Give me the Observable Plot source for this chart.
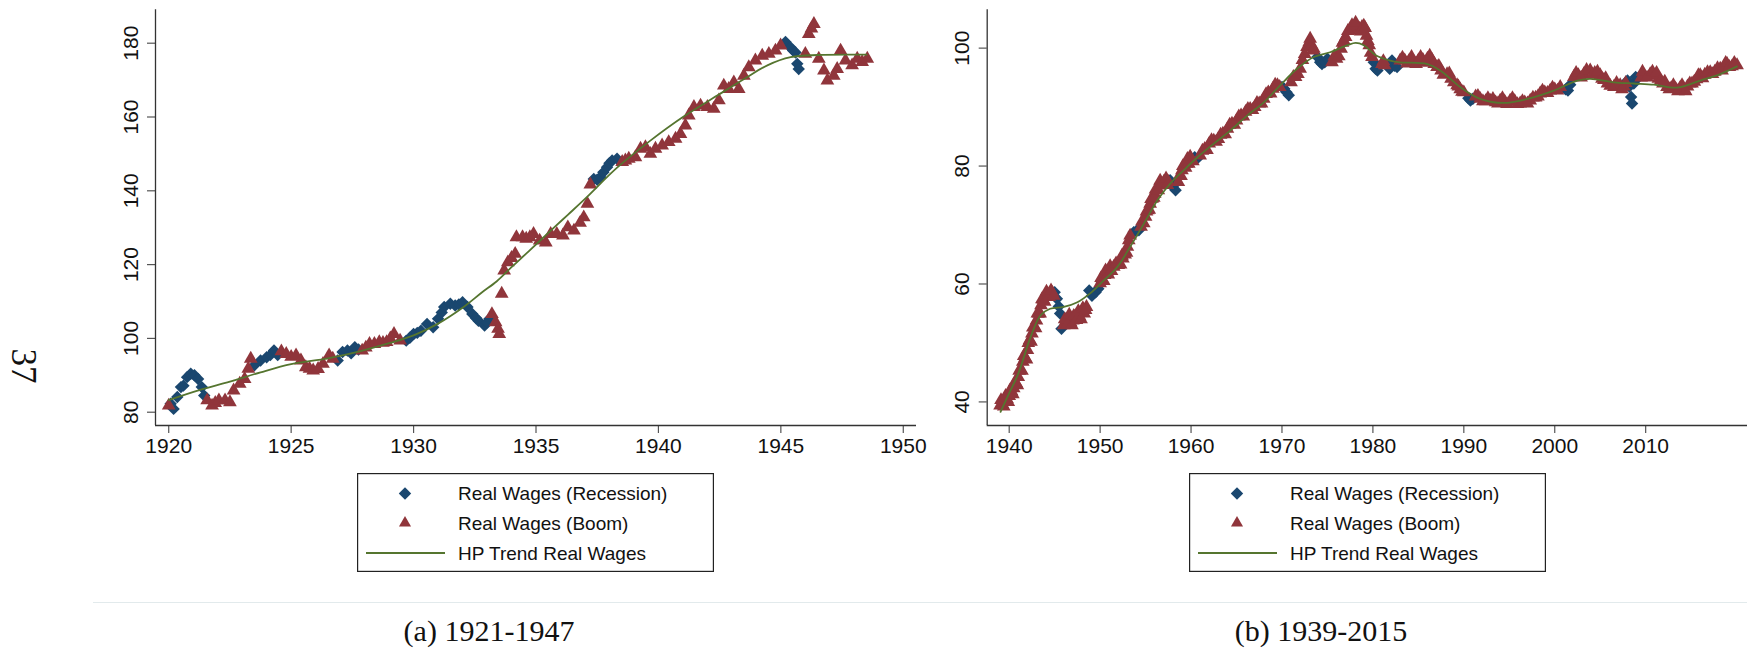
<!DOCTYPE html>
<html><head><meta charset="utf-8">
<script src="https://cdn.jsdelivr.net/npm/d3@7"></script>
<script src="https://cdn.jsdelivr.net/npm/@observablehq/plot@0.6"></script>
<style>
html,body{margin:0;padding:0;background:#fff;}
#page{position:relative;width:1747px;height:651px;overflow:hidden;background:#fff;}
.panel{position:absolute;top:0;}
.legend{position:absolute;top:473px;}
.caption{position:absolute;top:616px;font-family:"Liberation Serif","Times New Roman",serif;font-size:30px;color:#111;transform:translateX(-50%);white-space:nowrap;line-height:1;}
.sep{position:absolute;left:93px;right:0;top:602px;height:1px;background:#e2eaec;}
.pagenum{position:absolute;left:23px;top:366px;font-family:"Liberation Serif","Times New Roman",serif;font-size:35px;color:#111;line-height:1;transform:translate(-50%,-50%) rotate(90deg);white-space:nowrap;}
</style>
</head><body>
<div id="page">
  <div class="pagenum">37</div>
  <div id="left" class="panel" style="left:0px"></div>
  <div id="right" class="panel" style="left:930px"></div>
  <div id="legL" class="legend" style="left:357px"></div>
  <div id="legR" class="legend" style="left:1189px"></div>
  <div class="sep"></div>
  <div class="caption" style="left:489px">(a) 1921-1947</div>
  <div class="caption" style="left:1321px">(b) 1939-2015</div>
</div>
<script>
// ---------------- DATA ----------------
const leftXTicks = [1920, 1925, 1930, 1935, 1940, 1945, 1950];
const leftYTicks = [80, 100, 120, 140, 160, 180];
const rightXTicks = [1940, 1950, 1960, 1970, 1980, 1990, 2000, 2010];
const rightYTicks = [40, 60, 80, 100];
const legendLabels = ["Real Wages (Recession)", "Real Wages (Boom)", "HP Trend Real Wages"];

// Panel (a): [year, real wage]
const leftRecession = [
[1920.08,82.3],[1920.2,80.9],[1920.35,84.1],[1920.5,86.8],[1920.6,87.2],[1920.75,89.5],[1920.9,90.4],[1921.05,90.0],[1921.2,89.0],[1921.35,86.8],[1921.45,84.5],
[1923.5,92.7],[1923.75,94.0],[1924.0,94.9],[1924.15,95.5],[1924.3,96.7],[1924.45,95.5],
[1926.9,94.0],[1927.1,96.3],[1927.3,96.7],[1927.45,96.0],[1927.6,97.6],[1927.75,97.0],
[1929.7,99.4],[1929.85,100.2],[1930.0,101.2],[1930.15,101.5],[1930.3,102.1],[1930.55,103.9],[1930.8,103.0],[1931.0,105.3],[1931.15,107.0],[1931.25,108.5],[1931.5,109.4],[1931.7,108.9],[1931.85,109.2],[1932.0,109.8],[1932.2,108.5],[1932.4,106.6],[1932.55,105.5],[1932.65,104.8],[1932.9,103.5],[1933.0,104.3],[1933.1,105.3],
[1937.36,143.2],[1937.5,143.0],[1937.63,143.7],[1937.75,145.0],[1937.9,146.4],[1938.0,147.5],[1938.11,148.2],[1938.31,148.7],
[1945.19,180.3],[1945.39,178.9],[1945.5,178.0],[1945.6,177.5],[1945.67,174.4],[1945.73,173.0]
];
const leftBoom = [
[1920.0,81.8],[1921.57,83.2],[1921.77,81.8],[1921.9,82.5],[1922.05,83.2],[1922.3,83.2],[1922.5,82.7],[1922.65,85.9],[1922.9,87.7],[1923.1,89.0],[1923.25,91.8],[1923.35,94.5],
[1924.6,96.5],[1924.8,95.8],[1925.0,95.0],[1925.2,95.4],[1925.4,94.0],[1925.6,92.2],[1925.75,91.8],[1925.9,91.3],[1926.1,91.7],[1926.3,93.1],[1926.55,95.4],[1926.7,94.5],
[1927.9,96.7],[1928.05,97.5],[1928.2,98.5],[1928.4,98.5],[1928.6,99.0],[1928.75,98.8],[1928.9,99.0],[1929.05,100.0],[1929.2,101.2],[1929.45,99.4],
[1933.2,106.6],[1933.35,104.4],[1933.45,102.6],[1933.5,101.2],[1933.6,112.1],[1933.7,118.4],[1933.85,120.6],[1934.0,121.8],[1934.15,122.9],[1934.2,127.4],[1934.45,127.4],[1934.6,127.0],[1934.75,127.4],[1934.9,128.3],[1935.15,126.5],[1935.4,126.0],[1935.6,128.3],[1935.85,128.3],[1936.1,127.9],[1936.3,130.1],[1936.55,129.2],[1936.8,131.3],[1936.95,132.8],[1937.1,136.5],[1937.22,141.7],
[1938.52,147.8],[1938.65,148.2],[1938.79,148.7],[1939.06,149.1],[1939.27,151.4],[1939.47,151.8],[1939.67,150.0],[1939.88,151.4],[1940.15,152.3],[1940.42,153.2],[1940.7,154.1],[1940.9,155.4],[1941.1,157.7],[1941.24,160.4],[1941.45,162.7],[1941.72,163.1],[1942.0,162.7],[1942.26,162.2],[1942.47,164.5],[1942.67,168.5],[1942.87,167.6],[1943.08,169.4],[1943.28,167.6],[1943.49,171.2],[1943.69,173.5],[1943.96,175.3],[1944.24,176.6],[1944.51,177.1],[1944.78,178.0],[1944.99,179.4],
[1946.0,177.1],[1946.14,182.5],[1946.25,184.0],[1946.35,185.2],[1946.55,175.8],[1946.76,172.6],[1946.9,169.9],[1947.16,171.2],[1947.3,173.0],[1947.44,178.0],[1947.64,175.3],[1947.91,174.0],[1948.12,175.8],[1948.32,174.9],[1948.53,175.8]
];
const leftTrend = [
[1920.0,83.3],[1921.25,86.0],[1922.5,88.3],[1923.75,90.8],[1925.0,93.0],[1926.5,94.6],[1927.8,96.5],[1929.0,98.7],[1930.0,100.8],[1931.0,104.0],[1932.0,108.3],[1932.8,112.5],[1933.4,115.5],[1934.0,119.3],[1934.7,123.6],[1935.6,129.2],[1936.3,133.5],[1937.0,137.8],[1938.3,146.2],[1939.67,153.6],[1941.0,160.0],[1942.4,165.8],[1943.5,170.3],[1944.45,174.0],[1945.4,176.2],[1946.5,176.8],[1948.5,176.9]
];

// Panel (b): [year, real wage]
const rightRecession = [
[1945.0,58.6],[1945.25,57.5],[1945.45,56.2],[1945.6,55.0],[1945.75,52.4],
[1948.8,58.9],[1949.1,58.0],[1949.5,58.6],[1949.8,59.2],
[1953.7,68.8],[1954.0,69.0],[1954.26,69.1],
[1957.7,77.6],[1958.0,76.5],[1958.3,75.9],
[1960.4,81.5],[1960.7,81.3],
[1970.0,93.4],[1970.25,93.1],[1970.5,92.5],[1970.75,92.0],
[1973.9,98.5],[1974.2,97.6],[1974.4,97.3],[1974.7,97.6],[1975.0,98.2],
[1980.1,97.6],[1980.3,96.5],[1980.5,96.2],
[1981.6,97.0],[1981.85,96.5],[1982.1,97.9],[1982.4,97.0],[1982.66,96.8],
[1990.5,91.5],[1990.73,91.1],[1991.0,91.4],
[2001.2,93.0],[2001.45,92.8],[2001.7,93.8],
[2008.0,94.5],[2008.2,93.5],[2008.4,91.7],[2008.5,90.6],[2008.7,94.0],[2008.9,95.1],[2009.2,95.0]
];
const rightBoom = [
[1939.0,39.4],[1939.25,39.6],[1939.5,40.2],[1939.75,40.5],[1940.0,41.0],[1940.25,41.8],[1940.5,42.3],[1940.75,43.2],[1941.0,44.2],[1941.25,45.5],[1941.5,46.8],[1941.75,47.5],[1942.0,48.8],[1942.25,50.5],[1942.5,51.6],[1942.75,52.8],[1943.0,53.8],[1943.25,55.0],[1943.5,56.4],[1943.75,57.3],[1944.0,58.1],[1944.25,58.2],[1944.5,58.4],[1944.75,58.5],
[1946.0,53.0],[1946.25,53.8],[1946.5,54.1],[1946.75,53.5],[1947.0,53.8],[1947.25,54.5],[1947.5,54.7],[1947.75,54.5],[1948.0,55.3],[1948.25,55.0],[1948.5,56.1],
[1950.0,60.1],[1950.25,60.8],[1950.5,61.5],[1950.75,62.0],[1951.0,62.3],[1951.5,62.9],[1952.0,63.2],[1952.5,64.3],[1952.75,65.0],[1953.0,66.3],[1953.3,68.2],
[1954.5,69.7],[1955.0,71.4],[1955.25,72.5],[1955.5,73.6],[1955.75,74.5],[1956.0,75.3],[1956.25,76.0],[1956.5,76.7],[1957.0,77.3],[1957.5,77.3],
[1958.6,77.3],[1959.0,79.3],[1959.25,80.0],[1959.5,80.4],[1960.0,81.2],
[1961.0,81.8],[1961.5,82.9],[1962.0,83.8],[1962.5,84.3],[1963.0,84.6],[1963.5,85.5],[1964.0,86.3],[1964.5,87.2],[1965.0,87.7],[1965.5,88.6],[1966.0,89.2],[1966.5,89.7],[1967.0,90.0],[1967.5,90.6],[1968.0,91.4],[1968.5,92.5],[1969.0,93.1],[1969.5,93.7],
[1971.0,94.2],[1971.5,95.1],[1972.0,96.5],[1972.5,99.0],[1972.75,100.2],[1973.0,101.0],[1973.25,100.5],[1973.5,99.9],
[1975.5,97.6],[1976.0,98.2],[1976.5,99.9],[1976.8,101.3],[1977.0,101.9],[1977.5,103.0],[1977.9,103.6],[1978.3,103.5],[1978.5,103.3],[1978.8,103.6],[1979.0,103.8],[1979.3,102.1],[1979.6,100.5],[1979.9,98.5],
[1981.0,97.3],[1981.3,97.1],
[1983.0,97.9],[1983.5,97.9],[1984.0,97.9],[1984.5,97.7],[1985.0,97.9],[1985.5,98.0],[1986.0,98.2],[1986.5,98.0],[1987.06,96.8],[1987.5,96.2],[1988.16,95.6],[1988.6,94.8],[1989.26,93.7],[1989.6,93.0],[1990.0,92.5],
[1991.3,91.8],[1991.8,91.4],[1992.4,91.0],[1992.9,91.1],[1993.5,90.8],[1994.0,91.1],[1994.5,90.9],[1995.1,91.1],[1995.6,91.0],[1996.2,90.6],[1996.7,90.8],[1997.3,91.1],[1997.9,91.6],[1998.4,92.3],[1998.9,92.5],[1999.5,92.8],[2000.0,93.0],[2000.6,93.4],
[2002.1,95.1],[2002.6,95.4],[2003.2,95.6],[2003.9,96.2],[2004.4,95.8],[2005.0,95.4],[2005.4,94.6],[2005.8,94.0],[2006.5,93.4],[2007.2,93.7],[2007.6,93.5],
[2009.5,95.0],[2009.8,95.4],[2010.5,95.6],[2011.0,95.3],[2011.4,94.8],[2011.9,94.0],[2012.35,93.4],[2012.8,93.2],[2013.3,93.1],[2013.8,93.3],[2014.2,93.1],[2014.6,93.5],[2015.1,94.0],[2015.6,94.7],[2016.0,95.4],[2016.5,95.5],[2017.1,95.9],[2017.6,96.0],[2018.2,96.5],[2018.6,96.8],[2018.95,97.3],[2019.5,96.9],[2020.05,97.1],
// ragged upper/lower edges of the dense band
[1939.1,40.3],[1939.4,39.2],[1939.6,41.0],[1939.9,40.0],[1940.1,42.0],[1940.4,41.3],[1940.6,43.3],[1940.9,42.8],[1941.1,45.3],[1941.4,45.3],[1941.6,47.8],[1941.9,47.2],[1942.1,50.0],[1942.4,50.2],[1942.6,52.6],[1942.9,52.5],[1943.1,55.0],[1943.4,55.0],[1943.6,57.4],[1943.9,57.0],[1944.1,58.7],[1944.4,57.8],[1944.6,58.9],[1944.9,58.0],
[1946.1,54.0],[1946.4,53.2],[1946.6,54.8],[1946.9,53.0],[1947.1,54.6],[1947.4,53.9],[1947.6,55.4],[1947.9,54.0],[1948.1,55.9],[1948.4,55.6],
[1950.1,61.0],[1950.4,60.5],[1950.6,62.3],[1950.9,61.6],[1951.1,63.0],[1951.25,62.2],[1951.75,63.5],[1952.25,63.3],[1952.4,64.8],[1952.9,65.3],[1953.15,67.4],
[1954.6,70.6],[1954.8,70.3],[1955.1,72.3],[1955.4,72.6],[1955.6,74.4],[1955.9,74.6],[1956.1,76.0],[1956.4,75.9],[1956.6,77.5],[1956.75,76.8],[1957.25,77.9],[1957.4,76.8],
[1958.75,78.4],[1958.9,78.3],[1959.1,80.0],[1959.4,79.7],[1959.6,81.2],[1959.75,80.4],[1959.9,81.6],[1960.2,80.8],
[1961.25,82.6],[1961.75,82.7],[1962.25,84.4],[1962.75,84.1],[1963.25,85.3],[1963.75,85.4],[1964.25,87.0],[1964.75,87.0],[1965.25,88.4],[1965.75,88.4],[1966.25,89.7],[1966.75,89.5],[1967.25,90.7],[1967.75,90.6],[1968.25,92.2],[1968.75,92.3],[1969.25,93.8],[1969.75,93.4],
[1971.25,95.1],[1971.75,95.6],[1972.25,98.0],[1973.1,101.6],[1973.4,99.6],
[1975.75,98.6],[1976.25,98.6],[1976.65,100.9],[1977.25,102.9],[1977.7,103.9],[1978.1,104.3],[1978.65,102.8],[1979.15,103.4],[1979.45,101.2],[1979.75,99.2],
[1981.15,97.8],[1983.25,98.4],[1983.75,97.4],[1984.25,98.5],[1984.75,97.3],[1985.25,98.5],[1985.75,97.5],[1986.25,98.7],[1986.75,97.3],[1987.25,97.0],[1987.75,95.5],[1988.4,95.7],[1988.9,94.2],[1989.4,93.5],[1989.8,92.6],
[1991.55,91.9],[1992.1,91.0],[1992.65,91.5],[1993.2,91.4],[1993.75,90.6],[1994.25,91.5],[1994.75,90.5],[1995.35,91.5],[1995.9,90.5],[1996.45,91.0],[1997.0,90.6],[1997.6,91.6],[1998.15,91.8],[1998.65,92.8],[1999.2,92.4],[1999.75,93.3],[2000.3,92.8],
[2002.35,95.8],[2002.9,95.0],[2003.5,96.3],[2004.15,95.5],[2004.7,96.0],[2005.2,94.8],[2005.6,94.9],[2006.1,93.6],[2006.8,94.1],[2007.4,93.0],[2007.8,94.1],
[2009.65,96.0],[2010.15,95.0],[2010.75,96.0],[2011.2,95.8],[2011.65,94.5],[2012.1,94.3],[2012.6,93.0],[2013.05,93.7],[2013.55,92.7],[2014.0,93.7],[2014.4,92.7],[2014.85,94.0],[2015.35,94.3],[2015.8,95.4],[2016.25,94.9],[2016.8,95.9],[2017.35,95.6],[2017.9,96.6],[2018.4,96.2],[2018.8,97.5],[2019.2,96.8],[2019.75,97.5]
];
const rightTrend = [
[1939.05,38.3],[1940.0,41.5],[1941.0,44.8],[1942.35,51.0],[1943.45,54.7],[1944.5,55.8],[1946.0,56.1],[1947.5,56.9],[1948.9,58.4],[1950.4,60.6],[1951.9,62.9],[1953.3,66.3],[1954.8,70.2],[1956.3,74.2],[1957.7,77.0],[1959.2,79.3],[1960.7,81.5],[1962.5,83.8],[1964.3,86.0],[1966.2,88.6],[1968.0,90.8],[1969.8,93.7],[1971.65,96.5],[1973.5,98.5],[1975.3,99.3],[1977.2,100.5],[1978.1,100.9],[1979.0,100.5],[1980.3,98.8],[1981.9,97.9],[1983.0,97.6],[1986.0,97.3],[1987.4,96.2],[1989.6,93.4],[1991.8,91.4],[1994.4,90.7],[1997.0,91.4],[1999.9,92.8],[2002.5,94.5],[2003.9,94.8],[2006.5,94.2],[2008.7,94.0],[2010.9,93.8],[2013.5,93.3],[2016.0,94.5],[2018.2,95.6],[2020.05,96.9]
];

// ---------------- STYLE ----------------
const NAVY = "#1a476f", MAROON = "#90353b", GREEN = "#55752f";
const FONT = "'Liberation Sans', Arial, Helvetica, sans-serif";

function panel({width, marginLeft, marginRight, xDomain, yDomain, xTicks, yTicks, rec, boom, trend}) {
  return Plot.plot({
    width, height: 470,
    marginLeft, marginRight, marginTop: 9.3, marginBottom: 45,
    x: {domain: xDomain},
    y: {domain: yDomain},
    style: {fontFamily: FONT, fontSize: "21px", color: "#111", background: "transparent", overflow: "visible"},
    marks: [
      Plot.axisX({ticks: xTicks, tickSize: 8, tickPadding: 5, tickFormat: d3.format("d"), stroke: "#555", strokeWidth: 1.2}),
      Plot.axisY({ticks: yTicks, tickSize: 8, tickPadding: 10, tickRotate: -90, tickFormat: d3.format("d"), stroke: "#555", strokeWidth: 1.2}),
      Plot.ruleX([xDomain[0]], {stroke: "#333", strokeWidth: 1.3}),
      Plot.ruleY([yDomain[0]], {stroke: "#333", strokeWidth: 1.3}),
      Plot.dot(rec, {x: d => d[0], y: d => d[1], symbol: "diamond2", r: 5.6, fill: NAVY, stroke: null}),
      Plot.dot(boom, {x: d => d[0], y: d => d[1], symbol: "triangle", r: 5.1, fill: MAROON, stroke: null}),
      Plot.line(trend, {x: d => d[0], y: d => d[1], curve: "catmull-rom", stroke: GREEN, strokeWidth: 1.8})
    ]
  });
}

document.getElementById("left").append(panel({
  width: 930, marginLeft: 155, marginRight: 14,
  xDomain: [1919.46, 1950.54], yDomain: [76.4, 189.05],
  xTicks: leftXTicks, yTicks: leftYTicks,
  rec: leftRecession, boom: leftBoom, trend: leftTrend
}));
document.getElementById("right").append(panel({
  width: 817, marginLeft: 56.7, marginRight: 0,
  xDomain: [1937.58, 2021.2], yDomain: [36.0, 106.5],
  xTicks: rightXTicks, yTicks: rightYTicks,
  rec: rightRecession, boom: rightBoom, trend: rightTrend
}));

function legend(id) {
  const W = 357, H = 99;
  const svg = d3.select("#" + id).append("svg").attr("width", W).attr("height", H)
    .style("overflow", "visible").style("font-family", FONT);
  svg.append("rect").attr("x", 0.6).attr("y", 0.6).attr("width", W - 1.2).attr("height", H - 1.2)
    .attr("fill", "#fff").attr("stroke", "#222").attr("stroke-width", 1.2);
  const rows = [20.5, 50, 80];
  svg.append("path").attr("transform", `translate(48,${rows[0]})`)
    .attr("d", d3.symbol(d3.symbolDiamond2, Math.PI * 5.6 * 5.6)()).attr("fill", NAVY);
  svg.append("path").attr("transform", `translate(48,${rows[1]})`)
    .attr("d", d3.symbol(d3.symbolTriangle, Math.PI * 4.5 * 4.5)()).attr("fill", MAROON);
  svg.append("line").attr("x1", 9).attr("x2", 88).attr("y1", rows[2]).attr("y2", rows[2])
    .attr("stroke", GREEN).attr("stroke-width", 2);
  legendLabels.forEach((t, i) => {
    svg.append("text").attr("x", 101).attr("y", rows[i]).attr("dy", "0.35em")
      .attr("font-size", 19).attr("fill", "#111").text(t);
  });
}
legend("legL");
legend("legR");
</script>
</body></html>
